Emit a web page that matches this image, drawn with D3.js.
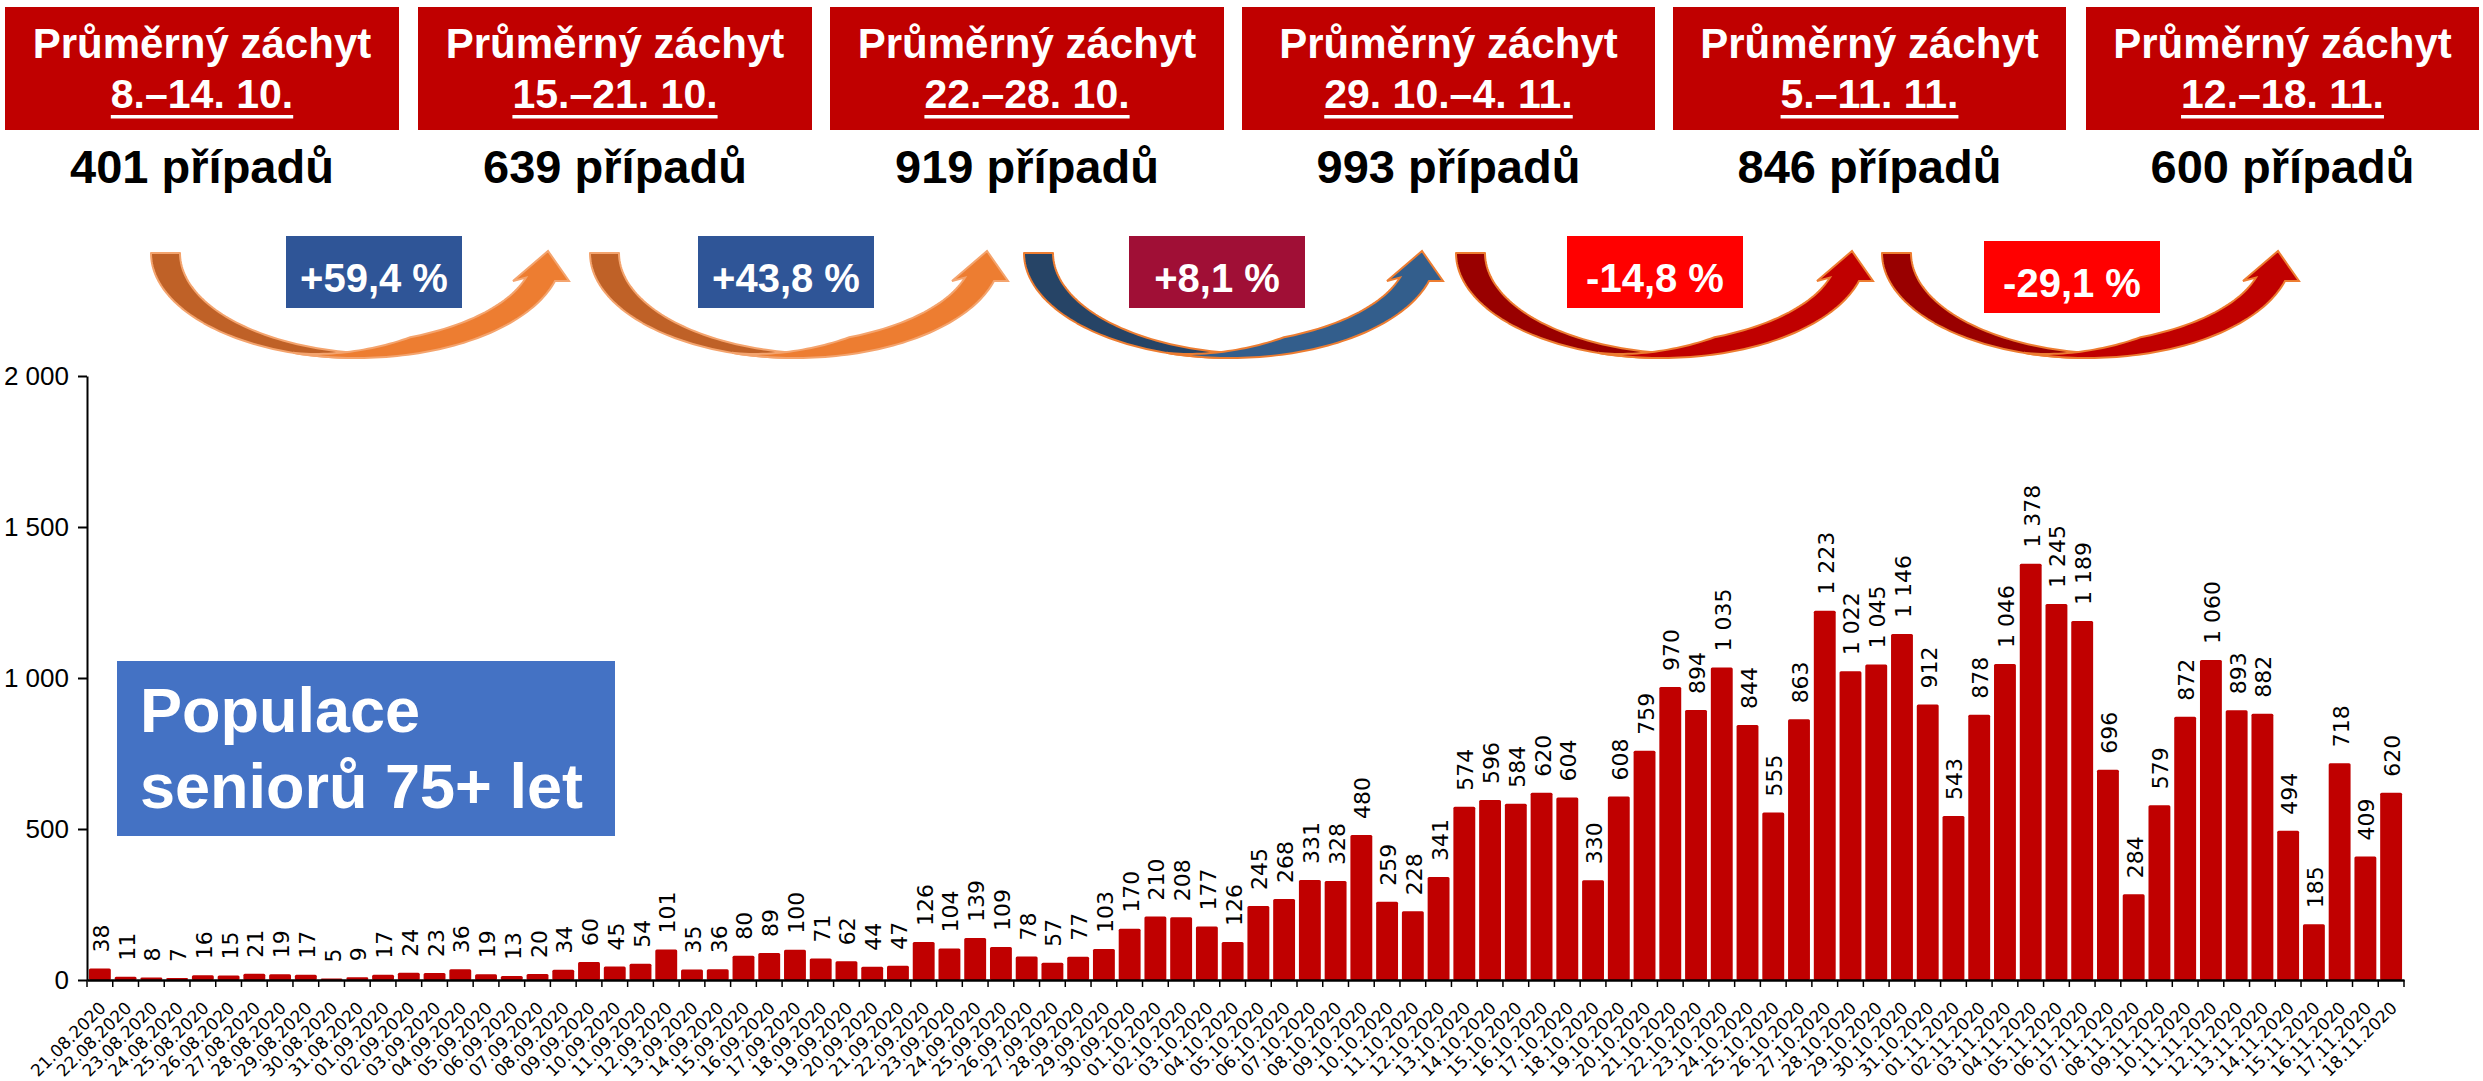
<!DOCTYPE html>
<html>
<head>
<meta charset="utf-8">
<script src="https://cdn.jsdelivr.net/npm/d3@7"></script>
<style>
  body { margin: 0; background: #fff; }
</style>
</head>
<body>
<script>
// daily counts, 21.08.2020 - 18.11.2020
const dates = [
  "21.08.2020","22.08.2020","23.08.2020","24.08.2020","25.08.2020","26.08.2020","27.08.2020","28.08.2020","29.08.2020","30.08.2020","31.08.2020",
  "01.09.2020","02.09.2020","03.09.2020","04.09.2020","05.09.2020","06.09.2020","07.09.2020","08.09.2020","09.09.2020","10.09.2020",
  "11.09.2020","12.09.2020","13.09.2020","14.09.2020","15.09.2020","16.09.2020","17.09.2020","18.09.2020","19.09.2020","20.09.2020",
  "21.09.2020","22.09.2020","23.09.2020","24.09.2020","25.09.2020","26.09.2020","27.09.2020","28.09.2020","29.09.2020","30.09.2020",
  "01.10.2020","02.10.2020","03.10.2020","04.10.2020","05.10.2020","06.10.2020","07.10.2020","08.10.2020","09.10.2020","10.10.2020",
  "11.10.2020","12.10.2020","13.10.2020","14.10.2020","15.10.2020","16.10.2020","17.10.2020","18.10.2020","19.10.2020","20.10.2020",
  "21.10.2020","22.10.2020","23.10.2020","24.10.2020","25.10.2020","26.10.2020","27.10.2020","28.10.2020","29.10.2020","30.10.2020",
  "31.10.2020","01.11.2020","02.11.2020","03.11.2020","04.11.2020","05.11.2020","06.11.2020","07.11.2020","08.11.2020","09.11.2020",
  "10.11.2020","11.11.2020","12.11.2020","13.11.2020","14.11.2020","15.11.2020","16.11.2020","17.11.2020","18.11.2020"
];
const cases = [
  38, 11, 8, 7, 16, 15, 21, 19, 17, 5, 9,
  17, 24, 23, 36, 19, 13, 20, 34, 60, 45,
  54, 101, 35, 36, 80, 89, 100, 71, 62, 44,
  47, 126, 104, 139, 109, 78, 57, 77, 103, 170,
  210, 208, 177, 126, 245, 268, 331, 328, 480, 259,
  228, 341, 574, 596, 584, 620, 604, 330, 608, 759,
  970, 894, 1035, 844, 555, 863, 1223, 1022, 1045, 1146,
  912, 543, 878, 1046, 1378, 1245, 1189, 696, 284, 579,
  872, 1060, 893, 882, 494, 185, 718, 409, 620
];
const yTicks = [0, 500, 1000, 1500, 2000];

// weekly summary
const weekRanges = ["8.–14. 10.", "15.–21. 10.", "22.–28. 10.", "29. 10.–4. 11.", "5.–11. 11.", "12.–18. 11."];
const weekAverages = [401, 639, 919, 993, 846, 600];
const weekChanges = ["+59,4 %", "+43,8 %", "+8,1 %", "-14,8 %", "-29,1 %"];

const width = 2483, height = 1081;
const boldFont = "'Liberation Sans', Arial, sans-serif";

const cz = d3.formatLocale({decimal: ",", thousands: " ", grouping: [3], currency: ["", ""]});
const fmt = cz.format(",d");

var svg = d3.select("body")
  .append("svg")
  .attr("width", width)
  .attr("height", height);

// ---------- bar chart ----------
const x = d3.scaleBand()
  .domain(dates)
  .range([87, 2404])
  .paddingInner(0.15)
  .paddingOuter(0.075);

const y = d3.scaleLinear()
  .domain([0, 2000])
  .range([980, 376]);

var chart = svg.append("g");

chart.selectAll("rect.bar")
  .data(cases)
  .join("rect")
  .attr("class", "bar")
  .attr("x", (d, i) => x(dates[i]))
  .attr("y", d => y(d))
  .attr("width", x.bandwidth())
  .attr("height", d => y(0) - y(d))
  .attr("rx", 1.5)
  .attr("fill", "#C00000");

chart.selectAll("text.val")
  .data(cases)
  .join("text")
  .attr("class", "val")
  .attr("transform", (d, i) => `translate(${x(dates[i]) + x.bandwidth() / 2 + 9}, ${y(d) - 16}) rotate(-90)`)
  .attr("font-family", "'DejaVu Sans', sans-serif")
  .attr("font-size", 22)
  .attr("fill", "#000")
  .text(d => fmt(d));

// y axis
var yAxis = chart.append("g")
  .attr("transform", "translate(87,0)")
  .call(d3.axisLeft(y).tickValues(yTicks).tickFormat(fmt).tickSize(9).tickSizeOuter(0).tickPadding(9));
yAxis.select(".domain").attr("stroke-width", 2);
yAxis.selectAll(".tick line").attr("stroke-width", 2);
yAxis.selectAll("text")
  .attr("font-family", "'Liberation Sans', Arial, sans-serif")
  .attr("font-size", 26)
  .attr("fill", "#000");

// x axis: labels at band centres, ticks at category edges
var xAxis = chart.append("g")
  .attr("transform", `translate(0,${y(0)})`)
  .call(d3.axisBottom(x).tickSize(0).tickSizeOuter(0));
xAxis.select(".domain").attr("stroke-width", 2.5);
xAxis.selectAll("text")
  .attr("x", null).attr("y", null).attr("dy", null)
  .attr("transform", "translate(7,29) rotate(-45)")
  .style("text-anchor", "end")
  .attr("font-family", "'DejaVu Sans', sans-serif")
  .attr("font-size", 17)
  .attr("fill", "#000");

chart.append("g")
  .selectAll("line")
  .data(d3.range(dates.length + 1))
  .join("line")
  .attr("x1", i => x.range()[0] + i * x.step())
  .attr("x2", i => x.range()[0] + i * x.step())
  .attr("y1", y(0))
  .attr("y2", y(0) + 7)
  .attr("stroke", "#000")
  .attr("stroke-width", 1.5);

// label box
svg.append("rect")
  .attr("x", 117).attr("y", 661)
  .attr("width", 498).attr("height", 175)
  .attr("fill", "#4472C4");
svg.append("text")
  .attr("font-family", boldFont)
  .attr("font-weight", "bold")
  .attr("font-size", 63)
  .attr("fill", "#fff")
  .selectAll("tspan")
  .data(["Populace", "seniorů 75+ let"])
  .join("tspan")
  .attr("x", 140)
  .attr("y", (d, i) => 732 + i * 76)
  .text(d => d);

// ---------- weekly header ----------
const boxX = [5, 418, 830, 1242, 1673, 2086];
const boxW = [394, 394, 394, 413, 393, 393];

var weeks = svg.append("g")
  .selectAll("g")
  .data(weekRanges)
  .join("g");

weeks.append("rect")
  .attr("x", (d, i) => boxX[i])
  .attr("y", 7)
  .attr("width", (d, i) => boxW[i])
  .attr("height", 123)
  .attr("fill", "#C00000");

weeks.append("text")
  .attr("x", (d, i) => boxX[i] + boxW[i] / 2)
  .attr("y", 58)
  .attr("text-anchor", "middle")
  .attr("font-family", boldFont)
  .attr("font-weight", "bold")
  .attr("font-size", 42)
  .attr("fill", "#fff")
  .text("Průměrný záchyt");

weeks.append("text")
  .attr("class", "range")
  .attr("x", (d, i) => boxX[i] + boxW[i] / 2)
  .attr("y", 108)
  .attr("text-anchor", "middle")
  .attr("font-family", boldFont)
  .attr("font-weight", "bold")
  .attr("font-size", 41)
  .attr("fill", "#fff")
  .text(d => d);

weeks.each(function(d, i) {
  const len = d3.select(this).select("text.range").node().getComputedTextLength();
  d3.select(this).append("rect")
    .attr("x", boxX[i] + boxW[i] / 2 - len / 2)
    .attr("y", 115)
    .attr("width", len)
    .attr("height", 3.5)
    .attr("fill", "#fff");
});

weeks.append("text")
  .attr("x", (d, i) => boxX[i] + boxW[i] / 2)
  .attr("y", 183)
  .attr("text-anchor", "middle")
  .attr("font-family", boldFont)
  .attr("font-weight", "bold")
  .attr("font-size", 47)
  .attr("fill", "#000")
  .text((d, i) => weekAverages[i] + " případů");

// ---------- curved arrows ----------
const arrowTail = [151, 590, 1024, 1456, 1882];
const arrowTip = [548, 987, 1422, 1852, 2278];
const arrowColors = [
  {back: "#BF6127", front: "#ED7D31", line: "#F4A46E"},
  {back: "#BF6127", front: "#ED7D31", line: "#F4A46E"},
  {back: "#264466", front: "#335E8C", line: "#ED7D31"},
  {back: "#990000", front: "#C00000", line: "#ED7D31"},
  {back: "#990000", front: "#C00000", line: "#ED7D31"}
];

function arrowShapes(x0, xt) {
  const yTop = 253, yBot = 358, yBase = 281, tipY = 251, w = 29;
  const ry = yBot - yTop;
  const aH = Math.asin((yBase - yTop) / ry);
  const rx = (xt + 7 - x0) / (1 + Math.cos(aH));
  const cx = x0 + rx;
  const P = (a, c, rxx, ryy) => [c + rxx * Math.cos(a), yTop + ryy * Math.sin(a)];
  const n = 60;

  const back = d3.range(n + 1).map(i => P(Math.PI - i / n * Math.PI / 2, cx, rx, ry))
    .concat(d3.range(n + 1).map(i => P(Math.PI / 2 + i / n * Math.PI / 2, cx + w, rx, ry - 4)));

  const a0 = Math.PI * 0.6;
  const lower = d3.range(n + 1).map(i => P(a0 + (aH - a0) * i / n, cx, rx, ry));
  const upper = d3.range(n + 1).map(i => {
    const t = i / n, a = a0 + (aH - a0) * t;
    const s = Math.min(1, t / 0.45);
    const p = P(a, cx, rx, ry);
    return [p[0] - w * s, p[1] - 13 * s * Math.sin(a)];
  }).reverse();
  const front = lower.concat([[xt + 21, yBase], [xt, tipY], [xt - 35, yBase]], upper);
  return {back, front};
}

var line = d3.line().curve(d3.curveLinearClosed);
var arrows = svg.append("g");
arrowTail.forEach((t, i) => {
  const s = arrowShapes(t, arrowTip[i]);
  const c = arrowColors[i];
  arrows.append("path").attr("d", line(s.back))
    .attr("fill", c.back).attr("stroke", c.line).attr("stroke-width", 2).attr("stroke-linejoin", "round");
  arrows.append("path").attr("d", line(s.front))
    .attr("fill", c.front).attr("stroke", c.line).attr("stroke-width", 2).attr("stroke-linejoin", "miter");
});

// percent change boxes
const changeX = [286, 698, 1129, 1567, 1984];
const changeY = [236, 236, 236, 236, 241];
const changeFill = ["#2F5597", "#2F5597", "#A00F36", "#FF0000", "#FF0000"];

var changes = svg.append("g")
  .selectAll("g")
  .data(weekChanges)
  .join("g");
changes.append("rect")
  .attr("x", (d, i) => changeX[i])
  .attr("y", (d, i) => changeY[i])
  .attr("width", 176)
  .attr("height", 72)
  .attr("fill", (d, i) => changeFill[i]);
changes.append("text")
  .attr("x", (d, i) => changeX[i] + 88)
  .attr("y", (d, i) => changeY[i] + 56)
  .attr("text-anchor", "middle")
  .attr("font-family", boldFont)
  .attr("font-weight", "bold")
  .attr("font-size", 40)
  .attr("fill", "#fff")
  .text(d => d);
</script>
</body>
</html>
